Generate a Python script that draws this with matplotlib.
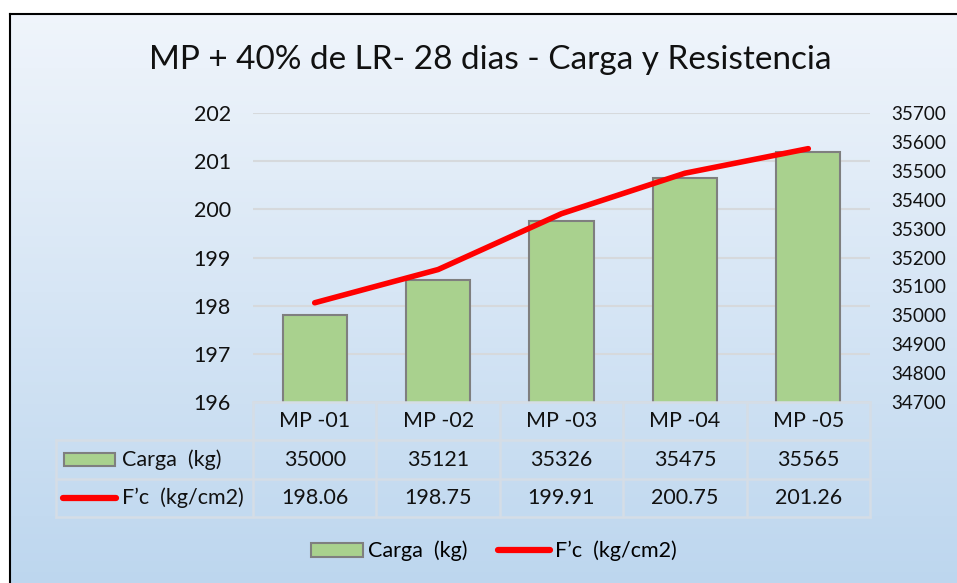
import numpy as np
import matplotlib.pyplot as plt
from matplotlib.patches import Rectangle, Patch
from matplotlib.lines import Line2D

plt.rcParams['font.family'] = ['Lato', 'DejaVu Sans']

# data
categorias = ['MP -01', 'MP -02', 'MP -03', 'MP -04', 'MP -05']
carga = [35000, 35121, 35326, 35475, 35565]
fc = [198.06, 198.75, 199.91, 200.75, 201.26]
fc_txt = ['198.06', '198.75', '199.91', '200.75', '201.26']
ticks_izq = [196, 197, 198, 199, 200, 201, 202]
ticks_der = list(range(34700, 35800, 100))
nombre_carga = 'Carga  (kg)'
nombre_fc = 'F\u2019c  (kg/cm2)'
titulo = 'MP + 40% de LR- 28 dias - Carga y Resistencia'

W, H = 957, 583
fig = plt.figure(figsize=(W/100, H/100), dpi=100)
fig.patch.set_facecolor('white')

def box(x0, y0, x1, y1):
    # pixel box (top-left origin) -> figure fraction rect
    return [x0/W, 1 - y1/H, (x1 - x0)/W, (y1 - y0)/H]

# gradient background with black frame
bg = fig.add_axes(box(10, 14, W + 5, H + 5))
grad = np.linspace(0, 1, 256).reshape(-1, 1)
top = np.array([0.94, 0.96, 0.985])
bot = np.array([0.74, 0.84, 0.935])
img = top + (bot - top) * grad[..., None]
bg.imshow(img, aspect='auto', extent=[0, 1, 0, 1])
bg.set_xticks([]); bg.set_yticks([])
for s in bg.spines.values():
    s.set_color('black'); s.set_linewidth(1.5)

fs = 15.5
fig.text(490/W, 1 - 60/H, titulo, ha='center', va='center', fontsize=24, color='#111111')

# plot area
x0, x1, y0, y1 = 253, 870, 113, 402
ax = fig.add_axes(box(x0, y0, x1, y1))
ax.patch.set_visible(False)
ax.set_ylim(196, 202)
ax.set_xlim(-0.5, 4.5)
ax.set_yticks(ticks_izq)
ax.yaxis.grid(True, color='#d6d9dc', lw=1.5)
ax.set_xticks([])
ax.tick_params(axis='y', length=0, pad=16, labelsize=fs, labelcolor='#111111')
for s in ax.spines.values():
    s.set_visible(False)

axb = ax.twinx()
axb.set_ylim(34700, 35700)
axb.set_yticks(ticks_der)
axb.tick_params(axis='y', length=0, pad=15.5, labelsize=13.6, labelcolor='#111111')
xs = np.arange(len(categorias))
axb.bar(xs, carga, width=0.52, color='#a9d18e', edgecolor='#7f7f7f', lw=1.5)
for s in axb.spines.values():
    s.set_visible(False)

axl = ax.twinx()
axl.set_ylim(196, 202)
axl.set_yticks([])
for s in axl.spines.values():
    s.set_visible(False)
axl.plot(xs, fc, color='#ff0000', lw=4, solid_capstyle='round', solid_joinstyle='round')

# data table under the plot
tab = fig.add_axes(box(56, 402, 870, 517))
cw = (x1 - x0) / 5
left = -0.5 - (x0 - 56) / cw
tab.set_xlim(left, 4.5)
tab.set_ylim(3, 0)
tab.axis('off')
gc = '#d5dde6'
row_edges = [0, 1, 2, 3]
for i, yv in enumerate(row_edges):
    tab.plot([-0.5 if i == 0 else left, 4.5], [yv, yv], color=gc, lw=1.8, clip_on=False)
for k in range(6):
    tab.plot([k - 0.5, k - 0.5], [0, 3], color=gc, lw=1.8, clip_on=False)
tab.plot([left, left], [row_edges[1], 3], color=gc, lw=1.8, clip_on=False)
mids = [(row_edges[i] + row_edges[i + 1]) / 2 for i in range(3)]
for i, c in enumerate(categorias):
    tab.text(i, mids[0], c, ha='center', va='center', fontsize=fs, color='#111111')
    tab.text(i, mids[1], str(carga[i]), ha='center', va='center', fontsize=fs, color='#111111')
    tab.text(i, mids[2], fc_txt[i], ha='center', va='center', fontsize=fs, color='#111111')
# row labels with series keys
px = 1 / cw
tab.add_patch(Rectangle((left + 8 * px, mids[1] - 0.18), 51 * px, 0.36, facecolor='#a9d18e',
                        edgecolor='#7f7f7f', lw=1.5))
tab.text(left + 66 * px, mids[1], nombre_carga, ha='left', va='center', fontsize=fs, color='#111111')
tab.plot([left + 7 * px, left + 60 * px], [mids[2], mids[2]], color='#ff0000', lw=4.5,
         solid_capstyle='round')
tab.text(left + 66 * px, mids[2], nombre_fc, ha='left', va='center', fontsize=fs, color='#111111')

handles = [Patch(facecolor='#a9d18e', edgecolor='#7f7f7f', lw=1.5, label=nombre_carga),
           Line2D([], [], color='#ff0000', lw=4.5, solid_capstyle='round', label=nombre_fc)]
fig.legend(handles=handles, loc='center', bbox_to_anchor=(494/W, 1 - 551/H), ncol=2,
           frameon=False, fontsize=fs, handlelength=2.4, handleheight=0.6,
           handletextpad=0.25, columnspacing=1.4)

fig.savefig('out.png', dpi=100)
